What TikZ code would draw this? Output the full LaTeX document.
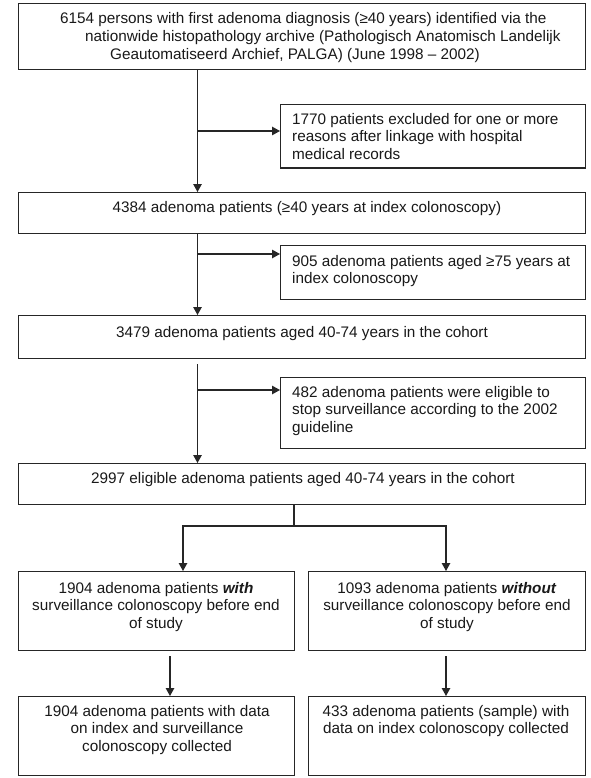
\documentclass[tikz,border=0pt]{standalone}
\usepackage{fontspec}
\setmainfont{Liberation Sans}
\usetikzlibrary{arrows.meta,calc}
\begin{document}
\begin{tikzpicture}[x=1pt,y=-1pt,
  box/.style={draw=black!85, line width=1.3pt, inner sep=0pt, anchor=north west},
  txt/.style={inner sep=0pt, font=\fontsize{15.3}{17.6}\selectfont, text=black!90},
  conn/.style={draw=black!85, line width=1.2pt},
  arr/.style={conn, -{Triangle[length=8pt,width=8.5pt]}}]
\useasboundingbox (0,0) rectangle (590,778);
\fill[white] (0,0) rectangle (590,778);

% boxes
\node[box, minimum width=567pt, minimum height=66pt] (top) at (17.5,3) {};
\node[box, minimum width=304.5pt, minimum height=63.5pt] (ex1) at (280,104) {};
\node[box, minimum width=567pt, minimum height=41pt] (b2) at (17.5,192) {};
\node[box, minimum width=304.5pt, minimum height=54pt] (ex2) at (280,245) {};
\node[box, minimum width=567pt, minimum height=43pt] (b3) at (17.5,315) {};
\node[box, minimum width=304.5pt, minimum height=71pt] (ex3) at (280,377) {};
\node[box, minimum width=567pt, minimum height=41pt] (b4) at (17.5,463) {};
\node[box, minimum width=276.5pt, minimum height=79pt] (b5l) at (17.5,571) {};
\node[box, minimum width=276.5pt, minimum height=79pt] (b5r) at (308,571) {};
\node[box, minimum width=276.5pt, minimum height=79pt] (b6l) at (17.5,696) {};
\node[box, minimum width=276.5pt, minimum height=79pt] (b6r) at (308,696) {};

% texts
\node[txt, anchor=north west, align=left, font=\fontsize{15.3}{18.3}\selectfont] (ttop) at (60,10.2)
  {\strut 6154 persons with first adenoma diagnosis (≥40 years) identified via the\\
   \hspace*{25pt}nationwide histopathology archive (Pathologisch Anatomisch Landelijk\\
   \hspace*{50pt}Geautomatiseerd Archief, PALGA) (June 1998 – 2002)};
\node[txt, anchor=north west, align=left] (tex1) at (292,111.7)
  {\strut 1770 patients excluded for one or more\\reasons after linkage with hospital\\medical records};
\node[txt, anchor=north] (tb2) at (307,199.7)
  {\strut 4384 adenoma patients (≥40 years at index colonoscopy)};
\node[txt, anchor=north west, align=left] (tex2) at (292,253.7)
  {\strut 905 adenoma patients aged ≥75 years at\\index colonoscopy};
\node[txt, anchor=north] (tb3) at (302,324.7)
  {\strut 3479 adenoma patients aged 40-74 years in the cohort};
\node[txt, anchor=north west, align=left] (tex3) at (292,384.7)
  {\strut 482 adenoma patients were eligible to\\stop surveillance according to the 2002\\guideline};
\node[txt, anchor=north] (tb4) at (303,470.7)
  {\strut 2997 eligible adenoma patients aged 40-74 years in the cohort};
\node[txt, anchor=north, align=center] (tb5l) at (156,580.7)
  {\strut 1904 adenoma patients \textbf{\textit{with}}\\surveillance colonoscopy before end\\of study};
\node[txt, anchor=north, align=center] (tb5r) at (447,580.7)
  {\strut 1093 adenoma patients \textbf{\textit{without}}\\surveillance colonoscopy before end\\of study};
\node[txt, anchor=north, align=center] (tb6l) at (157,703.7)
  {\strut 1904 adenoma patients with data\\on index and surveillance\\colonoscopy collected};
\node[txt, anchor=north, align=center] (tb6r) at (446,703.7)
  {\strut 433 adenoma patients (sample) with\\data on index colonoscopy collected};

% connectors
\coordinate (mx) at (197.5,0);
\coordinate (j1) at (197.5,131);
\coordinate (j2) at (197.5,254);
\coordinate (j3) at (197.5,390);
\coordinate (sx) at (294,526);
\coordinate (lx) at (183,0);
\coordinate (rx) at (446,0);
\coordinate (l2) at (170,0);

\draw[arr] (top.south -| mx) -- (b2.north -| mx);
\draw[arr] (j1) -- (j1 -| ex1.west);
\draw[arr] (b2.south -| mx) -- (b3.north -| mx);
\draw[arr] (j2) -- (j2 -| ex2.west);
\draw[arr] ($(b3.south -| mx)+(0,5)$) -- (b4.north -| mx);
\draw[arr] (j3) -- (j3 -| ex3.west);
\draw[conn] (b4.south -| sx) -- (sx);
\draw[arr] (sx) -| (b5l.north -| lx);
\draw[arr] (sx) -| (b5r.north -| rx);
\draw[arr] ($(b5l.south -| l2)+(0,5)$) -- (b6l.north -| l2);
\draw[arr] ($(b5r.south -| rx)+(0,5)$) -- (b6r.north -| rx);
\end{tikzpicture}
\end{document}
